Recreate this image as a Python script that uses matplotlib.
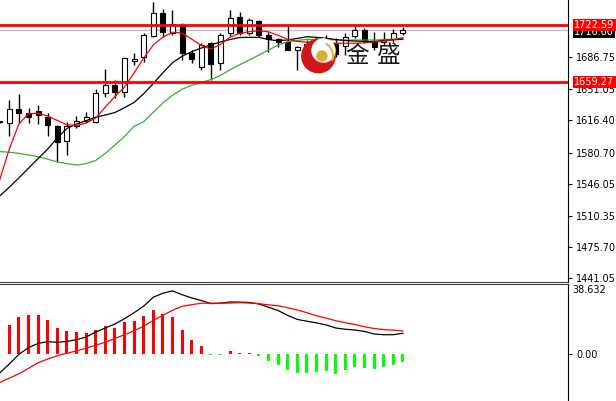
import matplotlib
matplotlib.use("Agg")
import matplotlib.pyplot as plt
from matplotlib.patches import Circle, Arc
import numpy as np

# bars, first one (index -1) is the one cut off at the left edge
opens = [1614.5, 1613.14, 1628.68, 1624.91, 1627.13, 1619.80, 1610.14, 1593.49, 1610.48, 1616.03,
         1614.92, 1647.11, 1655.66, 1648.22, 1682.65, 1686.42, 1710.07, 1735.27, 1713.07, 1722.28,
         1691.53, 1675.98, 1701.96, 1679.76, 1713.07, 1731.50, 1713.73, 1726.72, 1711.18, 1706.40,
         1703.74, 1694.53, 1697.86, 1697.86, 1705.63, 1701.19, 1698.97, 1710.07, 1716.18, 1704.52,
         1703.96, 1706.40, 1713.07]
highs = [1615.6, 1639.01, 1645.34, 1630.46, 1633.13, 1624.24, 1611.00, 1614.92, 1621.25, 1626.02,
         1650.89, 1673.10, 1661.22, 1687.08, 1690.86, 1713.07, 1748.15, 1739.71, 1738.94, 1724.17,
         1694.53, 1701.96, 1703.41, 1713.07, 1738.94, 1737.05, 1729.72, 1727.83, 1714.84, 1707.52,
         1722.28, 1698.97, 1705.63, 1708.96, 1711.18, 1707.85, 1713.07, 1722.28, 1718.40, 1713.96,
         1714.51, 1717.51, 1720.40]
lows = [1613.8, 1599.04, 1613.14, 1613.14, 1612.36, 1599.04, 1570.50, 1577.94, 1607.59, 1613.14,
        1613.14, 1642.67, 1640.90, 1642.67, 1677.87, 1681.53, 1708.63, 1709.29, 1711.18, 1683.42,
        1679.76, 1672.32, 1661.22, 1672.32, 1710.07, 1711.18, 1711.18, 1709.29, 1692.64, 1698.19,
        1694.00, 1672.32, 1694.53, 1692.30, 1696.75, 1686.75, 1688.97, 1707.85, 1701.96, 1694.53,
        1700.08, 1703.41, 1711.18]
closes = [1614.9, 1628.68, 1624.91, 1620.47, 1622.36, 1611.25, 1592.71, 1610.14, 1616.03, 1620.47,
          1647.11, 1655.66, 1648.22, 1685.31, 1684.87, 1711.18, 1735.27, 1714.84, 1723.39, 1690.86,
          1684.20, 1700.08, 1678.98, 1711.18, 1729.72, 1713.07, 1727.83, 1711.18, 1706.40, 1703.74,
          1694.53, 1697.52, 1701.19, 1705.63, 1700.08, 1690.08, 1709.29, 1716.18, 1704.52, 1698.41,
          1707.29, 1713.07, 1716.60]

# moving averages (red fast, black middle, green slow)
ma_fast = [1550.2, 1584.6, 1612.4, 1623.7, 1624.2, 1621.2, 1616.3, 1611.6, 1610.7, 1613.5,
           1619.0, 1631.2, 1642.9, 1653.4, 1669.0, 1685.6, 1700.1, 1708.9, 1714.2, 1713.4,
           1706.7, 1699.5, 1695.6, 1700.6, 1708.9, 1712.9, 1714.9, 1716.0, 1714.7, 1710.8,
           1706.4, 1704.0, 1703.2, 1702.5, 1702.1, 1702.0, 1702.0, 1702.0, 1702.5, 1703.2,
           1704.4, 1705.9, 1708.1]
ma_mid = [1532.4, 1542.1, 1552.6, 1563.3, 1574.0, 1584.6, 1597.0, 1607.4, 1612.4, 1616.1,
          1619.9, 1622.4, 1625.1, 1630.5, 1636.3, 1646.0, 1657.3, 1669.3, 1680.4, 1687.6,
          1692.7, 1696.7, 1700.2, 1703.5, 1706.2, 1708.4, 1708.6, 1708.6, 1706.1, 1704.8,
          1705.7, 1707.4, 1709.2, 1708.6, 1707.6, 1706.1, 1705.0, 1704.5, 1704.0, 1703.8,
          1705.1, 1705.9, 1706.5]
ma_slow = [1581.8, 1581.0, 1579.8, 1577.9, 1576.1, 1573.3, 1570.3, 1568.4, 1566.8, 1568.3,
           1571.9, 1579.8, 1589.0, 1598.5, 1609.9, 1615.0, 1625.4, 1635.7, 1644.3, 1651.0,
           1655.3, 1658.3, 1661.7, 1666.3, 1672.6, 1678.2, 1683.5, 1688.9, 1694.5, 1699.9,
           1703.8, 1705.1, 1706.3, 1706.2, 1706.0, 1705.7, 1705.6, 1705.6, 1705.6, 1705.6,
           1706.0, 1706.7, 1707.7]

# MACD window
macd_hist = [16.1, 20.5, 21.4, 21.4, 18.7, 14.5, 12.8, 11.9, 11.4, 13.4,
             15.6, 14.5, 17.7, 18.3, 20.9, 24.0, 22.1, 20.5, 13.4, 7.7,
             4.6, -0.5, -0.5, 1.8, 0.6, 0.6, -1.3, -4.0, -5.9, -8.8,
             -10.6, -10.3, -9.7, -9.3, -11.2, -8.8, -7.0, -7.5, -8.1, -7.0,
             -6.0, -4.6]
macd_main = [-10.4, -5.5, -0.2, 3.5, 5.8, 6.8, 6.4, 6.9, 7.9, 9.3,
             12.1, 14.3, 16.5, 19.4, 22.7, 26.3, 31.2, 33.4, 34.7, 32.6,
             30.8, 29.4, 27.7, 27.9, 28.6, 28.5, 28.3, 27.5, 25.7, 23.9,
             21.2, 19.0, 18.0, 17.1, 16.0, 14.3, 13.6, 13.2, 12.4, 11.0,
             10.6, 10.6, 11.4]
macd_signal = [-15.7, -13.3, -10.9, -7.9, -4.8, -2.8, -1.0, 0.4, 1.7, 3.2,
               4.8, 6.5, 8.5, 10.6, 12.7, 15.3, 18.4, 21.3, 24.0, 26.2,
               27.1, 27.9, 27.9, 27.9, 28.0, 28.2, 28.0, 27.7, 27.0, 26.5,
               25.4, 24.2, 22.7, 21.0, 19.7, 18.3, 17.2, 16.2, 15.0, 14.0,
               13.4, 13.1, 12.7]

level_hi = 1722.59
level_lo = 1659.27
last_price = 1716.60
price_ticks = [1441.05, 1475.70, 1510.35, 1546.05, 1580.70, 1616.40, 1651.05, 1686.75]
macd_top = 38.632

W, H = 616, 401
fig = plt.figure(figsize=(W / 100, H / 100), dpi=100)
ax = fig.add_axes([0, 1 - 281.7 / H, 568 / W, 281.7 / H])
ax2 = fig.add_axes([0, 0, 568 / W, (H - 283.7) / H])

x = np.arange(-1, len(opens) - 1)
o = np.array(opens); c = np.array(closes)
up = c >= o
body_lo = np.minimum(o, c)
body_h = np.maximum(np.abs(c - o), 0.7)

ax.axhline(last_price, color='#c0c0c0', lw=1, zorder=1)
ax.vlines(x, lows, highs, color='black', lw=1, zorder=3)
ax.bar(x, body_h, bottom=body_lo, width=0.52, color=np.where(up, 'white', 'black'),
       edgecolor='black', lw=0.8, zorder=4)
ax.plot(x, ma_slow, color='#2cb52c', lw=0.9, zorder=5)
ax.plot(x, ma_mid, color='black', lw=0.9, zorder=5)
ax.plot(x, ma_fast, color='#ff0000', lw=0.9, zorder=5)
ax.axhline(level_hi, color='#ff0000', lw=2, zorder=6)
ax.axhline(level_lo, color='#ff0000', lw=2, zorder=6)

ax.set_xlim(-0.969, 58.2)
ax.set_ylim(1437.3, 1750.04)
ax.set_xticks([])
ax.yaxis.tick_right()
ax.set_yticks(price_ticks)
ax.set_yticklabels([f"{v:.2f}" for v in price_ticks])
ax.tick_params(axis='y', direction='out', length=3, width=0.8, pad=3, labelsize=7)
for s in ('top', 'left'):
    ax.spines[s].set_visible(False)
ax.spines['bottom'].set_color('#404040')

# price labels on the right edge (current price sits under the upper level)
ax.text(1.011, last_price - 1.8, f"{last_price:.2f}", transform=ax.get_yaxis_transform(),
        color='white', fontsize=7, va='center', ha='left', clip_on=False, zorder=9,
        bbox=dict(boxstyle='square,pad=0.12', fc='black', ec='none'))
for lvl in (level_hi, level_lo):
    ax.text(1.011, lvl, f"{lvl:.2f}", transform=ax.get_yaxis_transform(),
            color='white', fontsize=7, va='center', ha='left', clip_on=False, zorder=10,
            bbox=dict(boxstyle='square,pad=0.12', fc='#ff0000', ec='none'))

hist = np.array(macd_hist)
ax2.bar(np.arange(len(hist)), hist, width=0.32,
        color=np.where(hist >= 0, '#ff0000', '#00ff00'), zorder=2)
ax2.plot(x, macd_main, color='black', lw=0.9, zorder=3)
ax2.plot(x, macd_signal, color='#ff0000', lw=0.9, zorder=3)
ax2.set_xlim(-0.969, 58.2)
ax2.set_ylim(-25.83, macd_top)
ax2.set_xticks([])
ax2.yaxis.tick_right()
ax2.set_yticks([0])
ax2.set_yticklabels(['0.00'])
ax2.tick_params(axis='y', direction='out', length=3, width=0.8, pad=3, labelsize=7)
for s in ('left', 'bottom'):
    ax2.spines[s].set_visible(False)
ax2.spines['top'].set_color('#404040')
ax2.text(1.008, 0.985, f"{macd_top:.3f}", transform=ax2.transAxes, va='top', ha='left', fontsize=7)

# watermark logo
deco = fig.add_axes([0, 0, 1, 1], facecolor='none')
deco.set_xlim(0, W)
deco.set_ylim(H, 0)
deco.axis('off')
deco.add_patch(Circle((318.5, 56), 16.7, color='#d01818'))
deco.add_patch(Circle((323.5, 50.5), 11.5, color='white'))
deco.add_patch(Arc((318.5, 56), 29, 29, theta1=-60, theta2=20, color='#e0b030', lw=1.5))
deco.add_patch(Circle((322, 56), 5, color='#d8b030'))
deco.text(357, 56, '金', fontsize=17, family=['Noto Sans CJK SC', 'DejaVu Sans'],
          ha='center', va='center', color='#1a1a1a')
deco.text(388.5, 56, '盛', fontsize=17, family=['Noto Sans CJK SC', 'DejaVu Sans'],
          ha='center', va='center', color='#1a1a1a')

fig.savefig('out.png', dpi=100)
